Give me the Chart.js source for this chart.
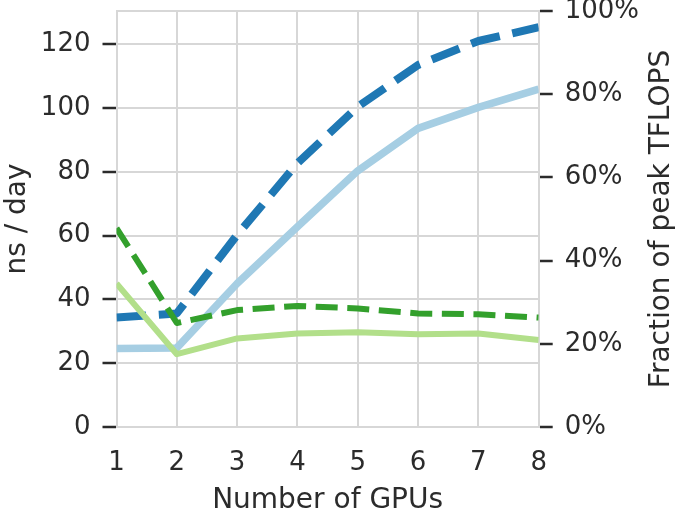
<!DOCTYPE html>
<html>
<head>
<meta charset="utf-8">
<script src="https://cdn.jsdelivr.net/npm/chart.js@4.4.1/dist/chart.umd.min.js"></script>
<style>
  html, body { margin: 0; padding: 0; background: #fff; }
</style>
</head>
<body>
<canvas id="myChart" width="681" height="515"></canvas>
<script>
// data
const gpus = [1, 2, 3, 4, 5, 6, 7, 8];
const nsDayDark = [34.3, 35.6, 60.2, 82.7, 100.4, 113.5, 121.0, 125.3];
const nsDayLight = [24.6, 24.8, 45.0, 62.8, 80.3, 93.6, 100.2, 105.9];
const peakDark = [47.8, 25.0, 28.1, 29.1, 28.5, 27.3, 27.1, 26.3];   // percent
const peakLight = [34.5, 17.5, 21.3, 22.5, 22.8, 22.3, 22.5, 20.9];  // percent
const leftTicks = [0, 20, 40, 60, 80, 100, 120];
const rightTicks = [0, 20, 40, 60, 80, 100];

const textColor = '#2b2b2b';
const gridColor = '#d7d7d7';
const tickFont = { family: 'DejaVu Sans', size: 26, lineHeight: 1.2 };
const titleFont = { family: 'DejaVu Sans', size: 28, lineHeight: 1 };

// matplotlib puts the right label bottom-to-top, chart.js would flip it
const rightTitle = {
    id: 'rightTitle',
    afterDraw(chart) {
        const c = chart.ctx;
        const area = chart.chartArea;
        c.save();
        c.translate(662.2, (area.top + area.bottom) / 2);
        c.rotate(-Math.PI / 2);
        c.font = '28px "DejaVu Sans"';
        c.fillStyle = textColor;
        c.textAlign = 'center';
        c.textBaseline = 'middle';
        c.fillText('Fraction of peak TFLOPS', 0, 0);
        c.restore();
    }
};

function line(data, color, width, dash, axis) {
    return {
        data: data,
        borderColor: color,
        borderWidth: width,
        borderDash: dash,
        borderJoinStyle: 'round',
        pointRadius: 0,
        tension: 0,
        fill: false,
        clip: 0,
        yAxisID: axis
    };
}

const ctx = document.getElementById('myChart').getContext('2d');
const myChart = new Chart(ctx, {
    type: 'line',
    data: {
        labels: gpus,
        datasets: [
            line(peakDark, '#33a02c', 6, [22, 9.6], 'yR'),
            line(peakLight, '#b2df8a', 6, [], 'yR'),
            line(nsDayDark, '#1f78b4', 8, [29.6, 12.8], 'yL'),
            line(nsDayLight, '#a6cee3', 7.5, [], 'yL')
        ]
    },
    plugins: [rightTitle],
    options: {
        responsive: false,
        animation: false,
        layout: { padding: { top: 11, left: 0, right: 0, bottom: 0 } },
        plugins: { legend: { display: false }, tooltip: { enabled: false } },
        scales: {
            x: {
                type: 'category',
                offset: false,
                grid: { color: gridColor, lineWidth: 2, drawTicks: false },
                border: { color: gridColor, width: 2 },
                ticks: { color: textColor, font: tickFont, padding: 21, maxRotation: 0 },
                title: { display: true, text: 'Number of GPUs', color: textColor, font: titleFont, padding: { top: 0, bottom: 0 } },
                afterFit(s) { s.height = 88; s.paddingLeft = 0; s.paddingRight = 0; }
            },
            yL: {
                position: 'left',
                min: 0,
                max: 130.4,
                afterBuildTicks(s) { s.ticks = leftTicks.map(v => ({ value: v })); },
                grid: { color: gridColor, lineWidth: 2, tickColor: textColor, tickLength: 14, tickWidth: 2.5 },
                border: { color: gridColor, width: 2 },
                ticks: { color: textColor, font: tickFont, padding: 12 },
                title: { display: true, text: 'ns / day', color: textColor, font: titleFont, padding: { top: 4, bottom: 0 } },
                afterFit(s) { s.width = 116.5; s.paddingTop = 0; s.paddingBottom = 0; }
            },
            yR: {
                position: 'right',
                min: 0,
                max: 100,
                afterBuildTicks(s) { s.ticks = rightTicks.map(v => ({ value: v })); },
                grid: {
                    drawOnChartArea: true,
                    color: c => (c.tick && c.tick.value === 100) ? gridColor : 'rgba(0,0,0,0)',
                    lineWidth: 2,
                    tickColor: textColor,
                    tickLength: 14,
                    tickWidth: 2.5
                },
                border: { color: gridColor, width: 2 },
                ticks: { color: textColor, font: tickFont, padding: 12, callback: v => v + '%' },
                afterFit(s) { s.width = 142.3; s.paddingTop = 0; s.paddingBottom = 0; }
            }
        }
    }
});
</script>
</body>
</html>
